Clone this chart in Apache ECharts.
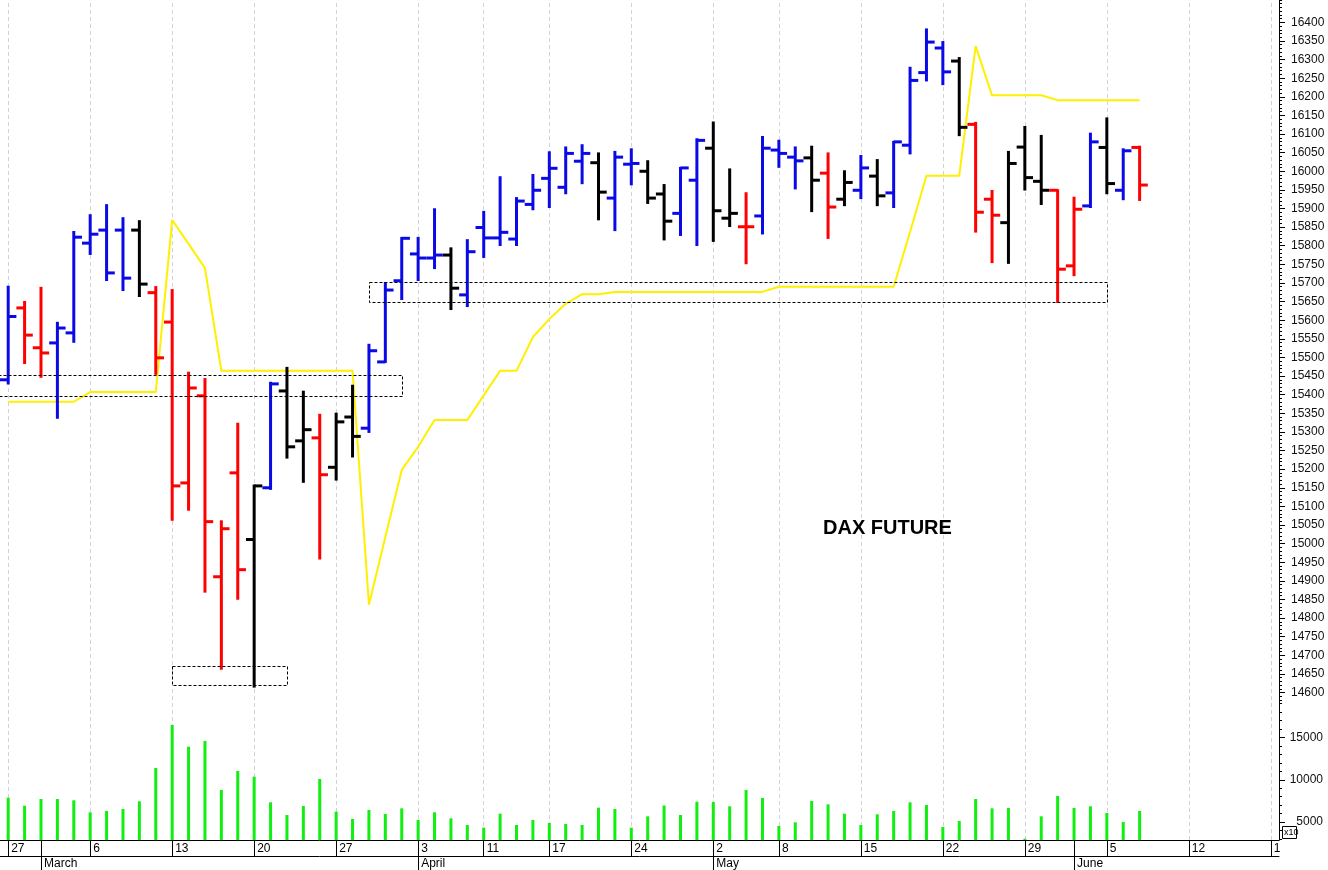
<!DOCTYPE html>
<html><head><meta charset="utf-8">
<script src="https://cdn.jsdelivr.net/npm/echarts@6/dist/echarts.min.js"></script>
<style>html,body{margin:0;padding:0;background:#fff}#c{width:1328px;height:870px}</style>
</head><body><div id="c"></div>
<script>
const dates = ['2023-02-27','2023-02-28','2023-03-01','2023-03-02','2023-03-03','2023-03-06','2023-03-07','2023-03-08','2023-03-09','2023-03-10',
'2023-03-13','2023-03-14','2023-03-15','2023-03-16','2023-03-17','2023-03-20','2023-03-21','2023-03-22','2023-03-23','2023-03-24',
'2023-03-27','2023-03-28','2023-03-29','2023-03-30','2023-03-31','2023-04-03','2023-04-04','2023-04-05','2023-04-06','2023-04-11',
'2023-04-12','2023-04-13','2023-04-14','2023-04-17','2023-04-18','2023-04-19','2023-04-20','2023-04-21','2023-04-24','2023-04-25',
'2023-04-26','2023-04-27','2023-04-28','2023-05-02','2023-05-03','2023-05-04','2023-05-05','2023-05-08','2023-05-09','2023-05-10',
'2023-05-11','2023-05-12','2023-05-15','2023-05-16','2023-05-17','2023-05-18','2023-05-19','2023-05-22','2023-05-23','2023-05-24',
'2023-05-25','2023-05-26','2023-05-29','2023-05-30','2023-05-31','2023-06-01','2023-06-02','2023-06-05','2023-06-06','2023-06-07',
'2023-06-08','2023-06-09','2023-06-12','2023-06-13','2023-06-14','2023-06-15','2023-06-16','2023-06-19'];

const open = [15440,15633,15526,15539,15566,15807,15842,15842,15842,15674,
15595,15163,15397,14911,15190,15011,15150,15410,15276,15284,
15205,15340,15310,15488,15706,15778,15767,15775,15668,15849,
15821,15818,15911,15981,15957,16027,16023,15928,16019,16000,
15939,15887,15976,16062,15874,15851,15880,16057,16038,16036,
15995,15925,15949,15987,15942,16070,16265,16331,16296,16126,
15925,15862,16065,15973,15949,15746,15907,16064,15949,16064];

const high = [15690,15649,15687,15593,15837,15882,15909,15874,15866,15689,
15681,15459,15442,15060,15322,15156,15432,15472,15408,15346,
15349,15424,15534,15700,15821,15821,15898,15793,15815,15891,
15984,15928,15990,16051,16064,16070,16048,16052,16059,16027,
15963,16009,16086,16131,16005,15941,16092,16082,16064,16066,
16048,16000,16041,16030,16079,16278,16381,16347,16304,16130,
15947,16052,16119,16095,15949,15929,16101,16142,16059,16066];

const low = [15430,15485,15448,15338,15542,15778,15708,15681,15665,15456,
15064,15091,14871,14664,14852,14616,15147,15231,15166,14960,
15172,15234,15300,15488,15657,15708,15740,15630,15638,15770,
15802,15802,15898,15904,15941,15968,15871,15842,15965,15915,
15817,15829,15802,15813,15853,15753,15833,16012,15954,15893,
15821,15909,15928,15909,15904,16048,16244,16234,16097,15838,
15756,15754,15951,15912,15649,15721,15904,15941,15925,15923];

const close = [15610,15560,15512,15579,15823,15831,15727,15713,15697,15499,
15155,15418,15059,15040,14930,15155,15429,15260,15306,15185,
15327,15288,15518,15681,15820,15767,15775,15686,15784,15821,
15836,15920,15949,16008,16048,16048,15944,16038,16021,15928,
15866,16009,16083,15894,15887,15851,16062,16048,16028,15976,
15904,15970,16009,15934,16079,16244,16347,16267,16118,15890,
15882,16021,15983,15949,15737,15898,16079,15967,16055,15963];

// u = up trend (blue), d = down trend (red), n = neutral (black)
const trend = ['u','d','d','u','u','u','u','u','n','d',
'd','d','d','d','d','n','u','n','n','d',
'n','n','u','u','u','u','u','n','u','u',
'u','u','u','u','u','u','n','u','u','n',
'n','u','u','n','n','d','u','u','u','n',
'd','n','u','n','u','u','u','u','n','d',
'd','n','n','n','d','d','u','n','u','d'];

const stopLine = [15381,15381,15381,15381,15381,15407,15407,15407,15407,15407,
15869,15805,15740,15464,15464,15464,15464,15464,15464,15464,
15464,15464,14836,15018,15198,15260,15332,15332,15332,15398,
15464,15464,15555,15603,15644,15670,15670,15676,15676,15676,
15676,15676,15676,15676,15676,15676,15676,15690,15690,15690,
15690,15690,15690,15690,15690,15837,15988,15988,15988,16336,
16204,16204,16204,16204,16191,16191,16191,16191,16191,16191];

const volume = [7885,6942,7732,7732,7579,6164,6318,6554,7460,11385,
16453,13896,14568,8793,11032,10364,7339,5846,6907,10089,
6239,5375,6436,5964,6632,5257,6164,5453,4668,4354,
6003,4668,5257,4903,4786,4668,6711,6554,4354,5689,
6966,5846,7417,7378,6868,8793,7850,4550,4986,7496,
7103,6003,4668,5925,6318,7339,7025,4432,5139,7732,
6632,6671,3050,5689,8086,6671,6868,6082,5021,6318];

// zones: [startIndex, endIndex, low, high]
const zones = [[0,24,15396,15452],[10,17,14619,14670],[22,67,15649,15702]];
const zoneOpenLeft = [true,false,false];

const priceLabels = [];
for (let v = 14600; v <= 16400; v += 50) priceLabels.push(v);
const priceMinor = [];
for (let v = 14580; v <= 16460; v += 10) priceMinor.push(v);
const volumeLabels = [5000,10000,15000];
const volumeMinor = [];
for (let v = 3000; v <= 19000; v += 1000) volumeMinor.push(v);

const monthNames = ['January','February','March','April','May','June','July','August','September','October','November','December'];

const colors = {u:'#0a0ae6', d:'#ff0000', n:'#000000'};
const FONT = '"Liberation Sans", Arial, sans-serif';

function dow(d){ return new Date(d+'T00:00:00Z').getUTCDay(); }
function isWeekStart(i){ return i===0 || dow(dates[i]) < dow(dates[i-1]); }
function isMonthStart(i){ return i>0 && dates[i].slice(5,7) !== dates[i-1].slice(5,7); }

const weekMarks = dates.map((d,i)=>isWeekStart(i)?{xAxis:d}:null).filter(Boolean);

const chart = echarts.init(document.getElementById('c'), null, {renderer:'canvas'});

const ohlcData = open.map((o,i)=>[i, o, high[i], low[i], close[i]]);

function renderBar(params, api){
  const i = api.value(0);
  const o = api.coord([i, api.value(1)]);
  const h = api.coord([i, api.value(2)]);
  const l = api.coord([i, api.value(3)]);
  const c = api.coord([i, api.value(4)]);
  const w = api.size([1,0])[0]*0.5;
  const col = colors[trend[params.dataIndex]];
  const st = {stroke:col, lineWidth:3, lineCap:'butt'};
  return {type:'group', children:[
    {type:'line', shape:{x1:h[0], y1:h[1]-1, x2:l[0], y2:l[1]+1}, style:st},
    {type:'line', shape:{x1:o[0]-w, y1:o[1], x2:o[0], y2:o[1]}, style:st},
    {type:'line', shape:{x1:c[0], y1:c[1], x2:c[0]+w, y2:c[1]}, style:st}
  ]};
}

function renderZone(params, api){
  const cs = params.coordSys;
  const s = api.value(0), e = api.value(1);
  const a = api.coord([s, api.value(3)]);
  const b = api.coord([e, api.value(2)]);
  const x0 = zoneOpenLeft[params.dataIndex] ? cs.x - 2 : a[0];
  return {type:'rect', shape:{x:Math.round(x0)+0.5, y:Math.round(a[1])+0.5, width:Math.round(b[0]-x0), height:Math.round(b[1]-a[1])},
    style:{fill:null, stroke:'#000', lineWidth:1, lineDash:[3,2]}};
}

const gridLineStyle = {color:'#d2d2da', type:[4,3], width:1};
const plain = (v)=>String(v);

const option = {
  animation:false,
  backgroundColor:'#fff',
  grid:[
    {left:0, right:49, top:0, height:700},
    {left:0, right:49, top:700, height:140}
  ],
  xAxis:[
    {type:'category', gridIndex:0, data:dates, boundaryGap:true,
     axisLine:{show:false}, axisTick:{show:false}, axisLabel:{show:false}, splitLine:{show:false}},
    {type:'category', gridIndex:1, data:dates, boundaryGap:true, position:'bottom',
     axisLine:{show:true, lineStyle:{color:'#000', width:1}},
     axisTick:{show:true, alignWithLabel:true, length:16, interval:(i)=>isWeekStart(i)||isMonthStart(i), lineStyle:{color:'#000'}},
     axisLabel:{show:true, interval:(i)=>isWeekStart(i), formatter:(v)=>String(parseInt(v.slice(8,10),10)),
       align:'left', margin:3, padding:[0,0,0,3], fontSize:12, color:'#000', fontFamily:FONT},
     splitLine:{show:false}},
    {type:'category', gridIndex:1, data:dates, boundaryGap:true, position:'bottom', offset:16,
     axisLine:{show:true, lineStyle:{color:'#000', width:1}},
     axisTick:{show:true, alignWithLabel:true, length:14, interval:(i)=>isMonthStart(i), lineStyle:{color:'#000'}},
     axisLabel:{show:true, interval:(i)=>isMonthStart(i), formatter:(v)=>monthNames[parseInt(v.slice(5,7),10)-1],
       align:'left', margin:2, padding:[0,0,0,3], fontSize:12, color:'#000', fontFamily:FONT},
     splitLine:{show:false}}
  ],
  yAxis:[
    {type:'value', gridIndex:0, position:'right', min:14580, max:16460, scale:true,
     axisLine:{show:true, lineStyle:{color:'#000'}},
     axisTick:{show:true, length:6, customValues:priceLabels, lineStyle:{color:'#000'}},
     axisLabel:{show:true, customValues:priceLabels, formatter:plain, margin:12, fontSize:12, color:'#111', fontFamily:FONT},
     splitLine:{show:false}},
    {type:'value', gridIndex:0, position:'right', min:14580, max:16460, scale:true,
     axisLine:{show:false},
     axisTick:{show:true, length:3, customValues:priceMinor, lineStyle:{color:'#000'}},
     axisLabel:{show:false}, splitLine:{show:false}},
    {type:'value', gridIndex:1, position:'right', min:2900, max:19400, scale:true,
     axisLine:{show:true, lineStyle:{color:'#000'}},
     axisTick:{show:true, length:6, customValues:volumeLabels, lineStyle:{color:'#000'}},
     axisLabel:{show:true, customValues:volumeLabels, formatter:plain, margin:44, align:'right', fontSize:12, color:'#111', fontFamily:FONT},
     splitLine:{show:false}},
    {type:'value', gridIndex:1, position:'right', min:2900, max:19400, scale:true,
     axisLine:{show:false},
     axisTick:{show:true, length:3, customValues:volumeMinor, lineStyle:{color:'#000'}},
     axisLabel:{show:false}, splitLine:{show:false}}
  ],
  series:[
    {type:'line', name:'stop', xAxisIndex:0, yAxisIndex:0, data:stopLine, symbol:'none', z:2,
     lineStyle:{color:'#fff000', width:2}, silent:true,
     markLine:{silent:true, z:0, symbol:['none','none'], label:{show:false}, lineStyle:gridLineStyle, data:weekMarks, animation:false}},
    {type:'custom', name:'zones', xAxisIndex:0, yAxisIndex:0, data:zones, renderItem:renderZone, z:4, clip:true,
     encode:{x:[0,1], y:[2,3]}, silent:true},
    {type:'custom', name:'DAX', xAxisIndex:0, yAxisIndex:0, data:ohlcData, renderItem:renderBar, z:3,
     encode:{x:0, y:[1,2,3,4]}, silent:true},
    {type:'bar', name:'volume', xAxisIndex:1, yAxisIndex:2, data:volume, barWidth:3, z:3,
     itemStyle:{color:'#11ee11'}, silent:true,
     markLine:{silent:true, z:0, symbol:['none','none'], label:{show:false}, lineStyle:gridLineStyle, data:weekMarks, animation:false}}
  ],
  graphic:[
    {type:'text', left:823, top:518, z:10, style:{text:'DAX FUTURE', font:'bold 20px '+FONT, fill:'#000'}},
    {type:'rect', left:1280, top:841, z:10, shape:{width:12, height:14}, style:{fill:'#fff'}},
    {type:'group', left:1282, top:826, z:10, children:[
      {type:'rect', shape:{x:0.5, y:0.5, width:14, height:12}, style:{fill:'#fff', stroke:'#000', lineWidth:1}},
      {type:'text', x:2, y:2, style:{text:'x10', font:'9px '+FONT, fill:'#000'}}
    ]}
  ]
};
chart.setOption(option);
</script>
</body></html>
